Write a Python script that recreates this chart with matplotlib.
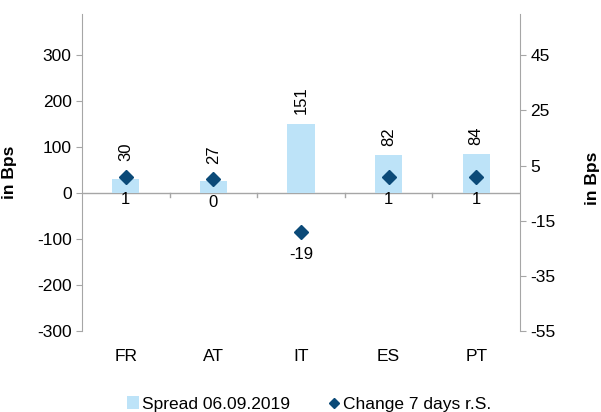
import matplotlib.pyplot as plt
import numpy as np

plt.rcParams['font.family'] = ['Liberation Sans', 'DejaVu Sans']
plt.rcParams['axes.unicode_minus'] = False

countries = ['FR', 'AT', 'IT', 'ES', 'PT']
spread = [30, 27, 151, 82, 84]
change = [1, 0, -19, 1, 1]

bar_color = '#BDE3F8'
dot_color = '#0B4A78'
axis_gray = '#A6A6A6'
fs = 12.5

fig = plt.figure(figsize=(6.01, 4.12), dpi=100)
ax = fig.add_axes([82 / 601, 1 - 331 / 412, 438 / 601, 317 / 412])
ax2 = ax.twinx()

x = np.arange(len(countries))
ax.bar(x, spread, width=0.31, color=bar_color, zorder=2,
       label='Spread 06.09.2019')
ax.set_xlim(-0.5, len(countries) - 0.5)
ax.set_ylim(-300, 389)
ax.set_yticks(np.arange(-300, 301, 100))

ax2.plot(x, change, linestyle='none', marker='D', markersize=7,
         color=dot_color, zorder=3, label='Change 7 days r.S.')
ax2.set_ylim(-55, 60)
ax2.set_yticks(np.arange(-55, 46, 20))

# bar value labels, kept clear of the diamonds
for xi, v, c in zip(x, spread, change):
    dot_px = ax.transData.inverted().transform(
        ax2.transData.transform((xi, c)))[1]
    base = max(v, dot_px + 12)
    ax.annotate(str(v), (xi, base), xytext=(0, 7), textcoords='offset points',
                rotation=90, ha='center', va='bottom', fontsize=12)
# change value labels
for xi, v in zip(x, change):
    ax2.annotate(str(v), (xi, v), xytext=(0, -11), textcoords='offset points',
                 ha='center', va='top', fontsize=12)

# zero line with category separators
ax.axhline(0, color=axis_gray, lw=1, zorder=1)
for b in np.arange(0.5, len(countries) - 0.5, 1):
    ax.plot([b, b], [0, -9], color=axis_gray, lw=1, zorder=1)

for a in (ax, ax2):
    a.spines['top'].set_visible(False)
    a.spines['bottom'].set_visible(False)
    a.spines['left'].set_color(axis_gray)
    a.spines['right'].set_color(axis_gray)
    a.tick_params(axis='y', colors=axis_gray, labelcolor='black',
                  labelsize=fs, length=4)
ax2.spines['left'].set_visible(False)
ax.spines['right'].set_visible(False)

ax.set_xticks(x)
ax.set_xticklabels(countries, fontsize=fs)
ax.tick_params(axis='x', length=0, pad=13)

ax.set_ylabel('in Bps', fontsize=fs, fontweight='bold')
ax.yaxis.set_label_coords(-0.148, (331 - 172) / 317)
ax2.set_ylabel('in Bps', fontsize=fs, fontweight='bold', rotation=90,
               va='top', ha='center')
ax2.yaxis.set_label_coords((585 - 82) / 438, (331 - 178) / 317)

h1, l1 = ax.get_legend_handles_labels()
h2, l2 = ax2.get_legend_handles_labels()
fig.legend(h1 + h2, l1 + l2, loc='center', bbox_to_anchor=(309 / 601, 1 - 404 / 412),
           ncol=2, frameon=False, fontsize=fs, handlelength=0.7,
           handletextpad=0.15, columnspacing=2.2, markerscale=0.75,
           borderpad=0)

fig.savefig('out.png', dpi=100)
